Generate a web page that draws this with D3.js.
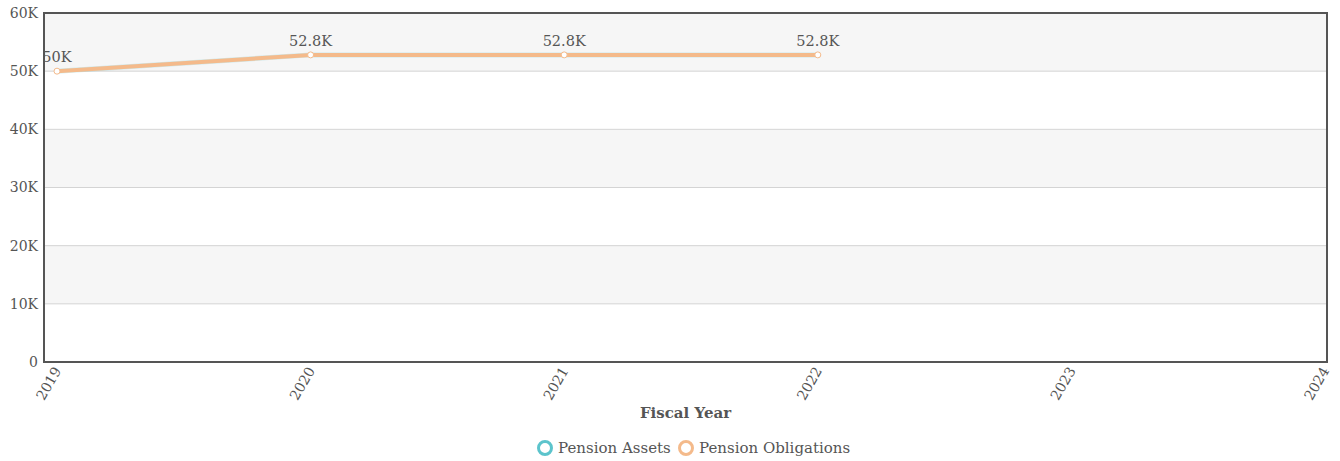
<!DOCTYPE html>
<html>
<head>
<meta charset="utf-8">
<script src="https://cdn.jsdelivr.net/npm/d3@7"></script>
<style>
  body { margin: 0; background: #fff; }
  text { font-family: "DejaVu Serif", serif; fill: #555; }
</style>
</head>
<body>
<div id="chart"></div>
<script>
var years = [2019, 2020, 2021, 2022, 2023, 2024];
var dataYears = [2019, 2020, 2021, 2022];
var pensionAssets = [50000, 52800, 52800, 52800];
var pensionObligations = [50000, 52800, 52800, 52800];
var pointLabels = ["50K", "52.8K", "52.8K", "52.8K"];
var yTicks = [0, 10000, 20000, 30000, 40000, 50000, 60000];
var seriesNames = ["Pension Assets", "Pension Obligations"];
var seriesColors = ["#5cc4cc", "#f4ba8b"];

var width = 1340, height = 461;
var frame = {left: 44, right: 1327, top: 13, bottom: 362};

const svg = d3.select("#chart")
    .append("svg")
        .attr("width", width)
        .attr("height", height);

// scales
const x = d3.scaleLinear()
    .domain([2019, 2024])
    .range([57, 1325]);

const y = d3.scaleLinear()
    .domain([0, 60000])
    .range([frame.bottom, frame.top]);

// alternating bands
for (var i = 0; i < yTicks.length - 1; i++) {
    svg.append("rect")
        .attr("x", frame.left)
        .attr("width", frame.right - frame.left)
        .attr("y", y(yTicks[i + 1]))
        .attr("height", y(yTicks[i]) - y(yTicks[i + 1]))
        .attr("fill", i % 2 == 1 ? "#f6f6f6" : "#fff");
}

// grid lines
svg.selectAll("gridline")
    .data(yTicks)
    .enter()
    .append("line")
    .attr("x1", frame.left)
    .attr("x2", frame.right)
    .attr("y1", function(d) { return y(d); })
    .attr("y2", function(d) { return y(d); })
    .attr("stroke", "#d4d4d4")
    .attr("stroke-width", 1);

// Y axis labels
svg.append("g")
    .attr("transform", `translate(${frame.left},0)`)
    .call(d3.axisLeft(y).tickValues(yTicks).tickSize(0).tickPadding(6)
        .tickFormat(function(d) { return d == 0 ? "0" : (d / 1000) + "K"; }))
    .call(function(g) { g.select(".domain").remove(); })
    .selectAll("text")
        .style("font-family", "DejaVu Serif, serif")
        .style("font-size", "14px")
        .attr("fill", "#555");

// X axis labels
svg.append("g")
    .attr("transform", `translate(0, ${frame.bottom})`)
    .call(d3.axisBottom(x).tickValues(years).tickSize(0).tickFormat(d3.format("d")))
    .call(function(g) { g.select(".domain").remove(); })
    .selectAll("text")
        .style("font-family", "DejaVu Serif, serif")
        .style("font-size", "14px")
        .attr("fill", "#555")
        .attr("y", 0)
        .attr("dy", "0.35em")
        .attr("transform", "translate(0,6)rotate(-60)")
        .style("text-anchor", "end");

// frame
svg.append("rect")
    .attr("x", frame.left)
    .attr("y", frame.top)
    .attr("width", frame.right - frame.left)
    .attr("height", frame.bottom - frame.top)
    .attr("fill", "none")
    .attr("stroke", "#555")
    .attr("stroke-width", 2);

// lines
const line = d3.line()
    .x(function(d, i) { return x(dataYears[i]); })
    .y(function(d) { return y(d); });

svg.append("path")
    .datum(pensionAssets)
    .attr("d", line)
    .attr("fill", "none")
    .attr("stroke", seriesColors[0])
    .attr("stroke-opacity", 0.25)
    .attr("stroke-width", 5);

svg.append("path")
    .datum(pensionObligations)
    .attr("d", line)
    .attr("fill", "none")
    .attr("stroke", seriesColors[1])
    .attr("stroke-width", 4);

svg.selectAll("mycircle")
    .data(pensionObligations)
    .enter()
    .append("circle")
    .attr("cx", function(d, i) { return x(dataYears[i]); })
    .attr("cy", function(d) { return y(d); })
    .attr("r", 3)
    .attr("fill", "#fff")
    .attr("stroke", seriesColors[1])
    .attr("stroke-width", 1);

svg.selectAll("mylabel")
    .data(pensionObligations)
    .enter()
    .append("text")
    .attr("x", function(d, i) { return x(dataYears[i]); })
    .attr("y", function(d) { return y(d) - 9; })
    .attr("text-anchor", "middle")
    .style("font-size", "14.5px")
    .text(function(d, i) { return pointLabels[i]; });

// axis title
svg.append("text")
    .attr("x", (frame.left + frame.right) / 2)
    .attr("y", 418)
    .attr("text-anchor", "middle")
    .style("font-size", "15px")
    .style("font-weight", "bold")
    .text("Fiscal Year");

// legend
var legendX = [545, 686];
seriesNames.forEach(function(name, i) {
    svg.append("circle")
        .attr("cx", legendX[i])
        .attr("cy", 448)
        .attr("r", 6.5)
        .attr("fill", "#fff")
        .attr("stroke", seriesColors[i])
        .attr("stroke-width", 3);
    svg.append("text")
        .attr("x", legendX[i] + 13)
        .attr("y", 453)
        .style("font-size", "15px")
        .text(name);
});
</script>
</body>
</html>
